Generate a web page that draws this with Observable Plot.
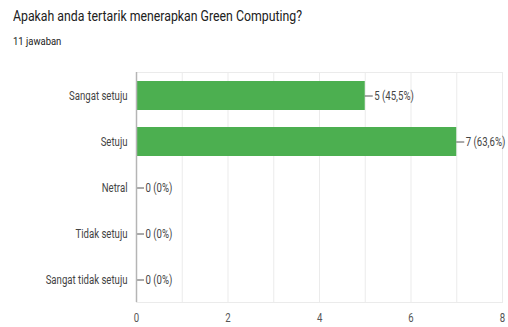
<!DOCTYPE html>
<html>
<head>
<meta charset="utf-8">
<script src="https://cdn.jsdelivr.net/npm/d3@7"></script>
<script src="https://cdn.jsdelivr.net/npm/@observablehq/plot@0.6"></script>
<style>
  body { margin: 0; background: #fff; font-family: Roboto, sans-serif; }
  #head { position: relative; height: 60px; width: 508px; }
  #title { position: absolute; left: 13px; top: 7px; font-size: 15px; color: #212121; white-space: nowrap; transform-origin: left top; transform: scaleX(0.82); }
  #sub { position: absolute; left: 13px; top: 35px; font-size: 11px; color: #212121; white-space: nowrap; transform-origin: left top; transform: scaleX(0.86); }
  svg { display: block; }
</style>
</head>
<body>
<div id="head">
  <div id="title">Apakah anda tertarik menerapkan Green Computing?</div>
  <div id="sub">11 jawaban</div>
</div>
<div id="chart"></div>
<script>
const categories = ["Sangat setuju", "Setuju", "Netral", "Tidak setuju", "Sangat tidak setuju"];
const counts = [5, 7, 0, 0, 0];
const labels = ["5 (45,5%)", "7 (63,6%)", "0 (0%)", "0 (0%)", "0 (0%)"];
const xTicks = [0, 2, 4, 6, 8];
const gridTicks = [0, 1, 2, 3, 4, 5, 6, 7, 8];

const data = categories.map((c, i) => ({category: c, value: counts[i], label: labels[i]}));

const W = 508, H = 267, mL = 136, mR = 6;
const pxPerUnit = (W - mL - mR) / 8;
const conn = 8 / pxPerUnit;

const chart = Plot.plot({
  width: W,
  height: H,
  marginLeft: mL,
  marginRight: mR,
  marginTop: 12,
  marginBottom: 25,
  style: {fontFamily: "Roboto, sans-serif", fontSize: "13px", color: "#444", background: "#fff", overflow: "visible"},
  x: {domain: [0, 8]},
  y: {domain: categories, paddingInner: 0.37, paddingOuter: 0.185},
  marks: [
    Plot.gridX(gridTicks, {stroke: "#ebebeb", strokeOpacity: 1}),
    Plot.frame({stroke: "#ebebeb"}),
    Plot.barX(data, {x: "value", y: "category", fill: "#4caf50"}),
    Plot.ruleY(data, {y: "category", x1: "value", x2: d => d.value + conn, stroke: "#555", strokeWidth: 1}),
    Plot.text(data, {x: "value", y: "category", text: "label", dx: 9, textAnchor: "start", fill: "#444", fontSize: 13}),
    Plot.ruleX([0], {stroke: "#b5b5b5", strokeWidth: 1.5}),
    Plot.axisX(xTicks, {tickSize: 0, tickPadding: 10, label: null, fill: "#555", fontSize: 13}),
    Plot.axisY({tickSize: 0, tickPadding: 9, label: null, fill: "#444", fontSize: 13})
  ]
});
document.getElementById("chart").appendChild(chart);

// condense glyphs horizontally to match the narrow lettering of the reference
const SX = 0.74;
chart.querySelectorAll("text").forEach(t => {
  let anchor = null, el = t;
  while (el && el !== chart.parentNode && !anchor) {
    anchor = el.getAttribute && el.getAttribute("text-anchor");
    el = el.parentNode;
  }
  anchor = anchor || "start";
  const b = t.getBBox();
  const ox = anchor === "end" ? b.x + b.width : anchor === "middle" ? b.x + b.width / 2 : b.x;
  const prev = t.getAttribute("transform") || "";
  t.setAttribute("transform", `${prev} translate(${ox},0) scale(${SX},1) translate(${-ox},0)`);
});
</script>
</body>
</html>
